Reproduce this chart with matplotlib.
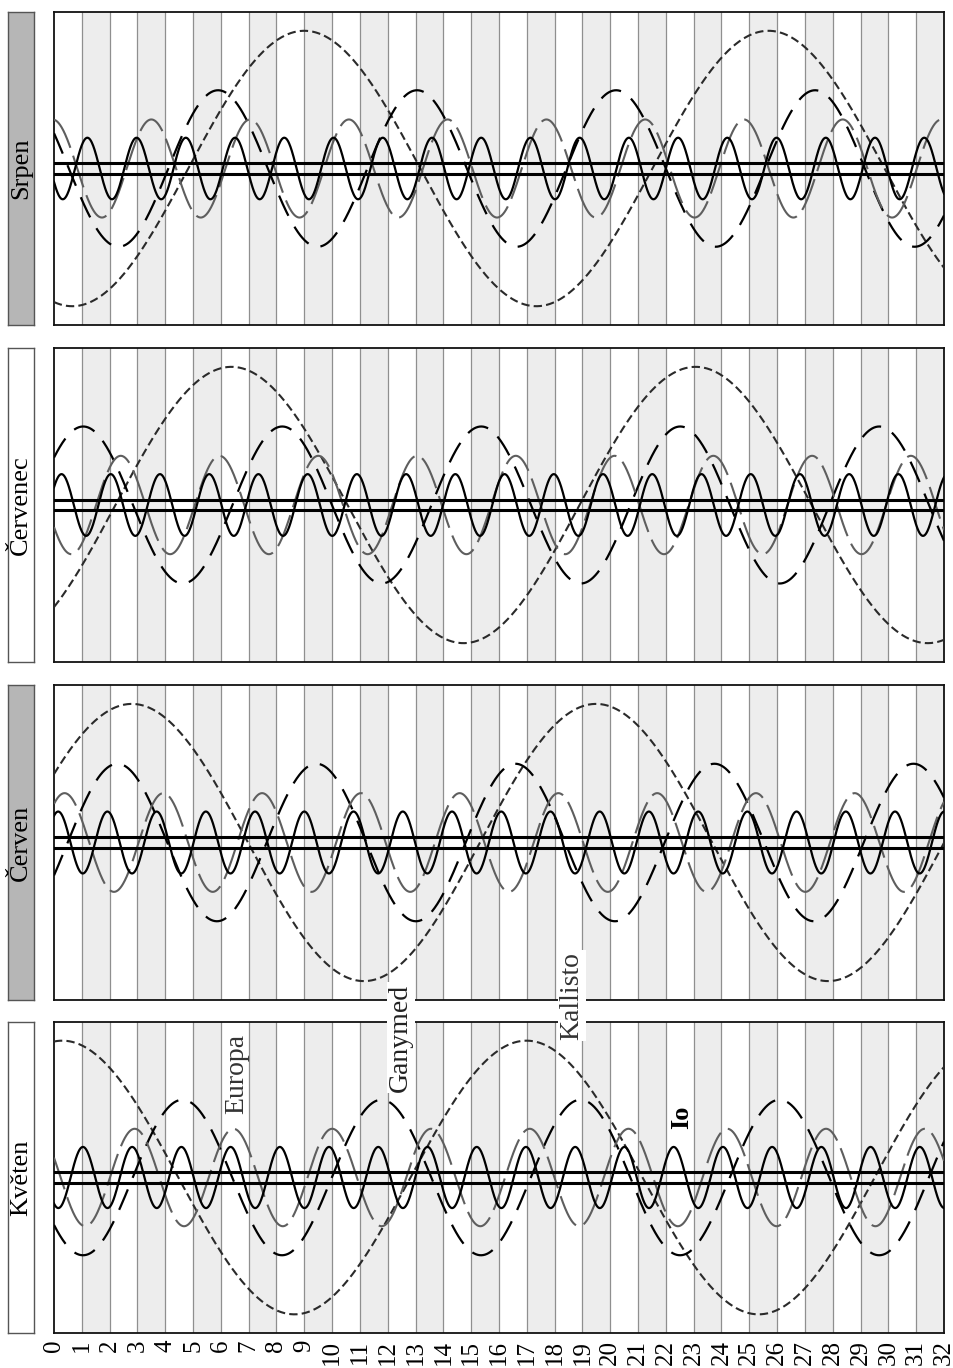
import numpy as np
import matplotlib.pyplot as plt

plt.rcParams['font.family'] = ['Liberation Serif', 'DejaVu Serif']
plt.rcParams['lines.scale_dashes'] = False

# ---------------------------------------------------------------- data
months = ['Srpen', 'Červenec', 'Červen', 'Květen']
month_box_grey = [True, False, True, False]

moons = ['Io', 'Europa', 'Ganymed', 'Kallisto']
periods = [1.7700, 3.5512, 7.1555, 16.689]   # days
radii = [5.9, 9.4, 15.0, 26.4]               # in Jupiter radii

# day of the upper elongation in each month
io_peak = [1.20, 0.27, 0.15, 1.04]
europa_peak = [3.50, 2.40, 0.38, 2.90]
ganymed_peak = [5.90, 1.05, 2.28, 4.62]
kallisto_peak = [9.00, 6.38, 2.80, 0.30]
peaks = [io_peak, europa_peak, ganymed_peak, kallisto_peak]

days = list(range(0, 33))
jupiter_radius = 1.0

# ---------------------------------------------------------------- layout
W, H = 954, 1368
panel_top = [12, 348, 685, 1022]
panel_bottom = [325, 662, 1000, 1333]
x_left, x_right = 54, 944

styles = {
    'Io':       dict(color='black', lw=1.6, ls='-'),
    'Europa':   dict(color='#5e5e5e', lw=1.5, dashes=(24, 6)),
    'Ganymed':  dict(color='black', lw=1.6, dashes=(16, 9)),
    'Kallisto': dict(color='#2a2a2a', lw=1.5, dashes=(6, 3)),
}

fig = plt.figure(figsize=(W / 100, H / 100), dpi=100)
t = np.linspace(0, 32, 2000)

axes = []
for i, month in enumerate(months):
    b = 1 - panel_bottom[i] / H
    h = (panel_bottom[i] - panel_top[i]) / H
    ax = fig.add_axes([x_left / W, b, (x_right - x_left) / W, h])
    axes.append(ax)

    # alternating day bands and day lines
    for d in days[1::2]:
        if d < 32:
            ax.axvspan(d, d + 1, color='#ededed', lw=0, zorder=0)
    for d in days[1:-1]:
        ax.axvline(d, color='#8f8f8f', lw=0.9, zorder=1)

    # moons, drawn from the outermost inwards
    for m in [3, 2, 1, 0]:
        name = moons[m]
        y = radii[m] * np.cos(2 * np.pi * (t - peaks[m][i]) / periods[m])
        ax.plot(t, y, zorder=3 + (3 - m), **styles[name])

    # Jupiter's disc
    for s in (-1, 1):
        ax.axhline(s * jupiter_radius, color='black', lw=2.2, zorder=8)

    ax.set_xlim(0, 32)
    ax.set_ylim(-30, 30)
    ax.set_yticks([])
    ax.set_xticks(days)
    ax.tick_params(axis='x', length=0, pad=5, labelsize=18)
    if i < len(months) - 1:
        ax.set_xticklabels([])
    else:
        ax.set_xticklabels([str(d) for d in days], rotation=90, va='top')
    for sp in ax.spines.values():
        sp.set_linewidth(1.3)
        sp.set_color('#111111')

    # month label box
    lab = fig.add_axes([8 / W, b, 26 / W, h])
    lab.set_facecolor('#b6b6b6' if month_box_grey[i] else 'white')
    lab.set_xticks([])
    lab.set_yticks([])
    for sp in lab.spines.values():
        sp.set_linewidth(1.0)
        sp.set_color('#555555')
    lab.text(0.5, 0.5, month, rotation=90, ha='center', va='center',
             fontsize=19, transform=lab.transAxes)

# moon names in the May panel
ax = axes[-1]
ax.text(6.57, 19.9, 'Europa', rotation=90, ha='center', va='center',
        fontsize=20, color='#333333', zorder=12)
ax.text(12.47, 27.0, 'Ganymed', rotation=90, ha='center', va='center',
        fontsize=20, color='#222222', zorder=12, clip_on=False,
        bbox=dict(facecolor='white', edgecolor='none', pad=1))
ax.text(18.62, 35.1, 'Kallisto', rotation=90, ha='center', va='center',
        fontsize=20, color='#333333', zorder=12, clip_on=False,
        bbox=dict(facecolor='white', edgecolor='none', pad=1))
ax.text(22.58, 11.6, 'Io', rotation=90, ha='center', va='center',
        fontsize=19, fontweight='bold', color='black', zorder=12)

fig.savefig('out.png', dpi=100)
